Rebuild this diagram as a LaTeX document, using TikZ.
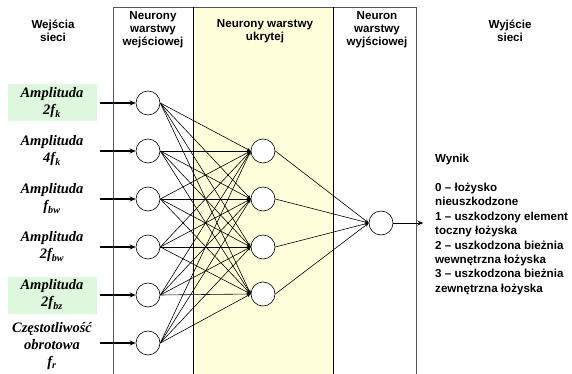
\documentclass[tikz,border=0pt]{standalone}
\usepackage{fontspec}
\setmainfont{Liberation Serif}
\setsansfont{Liberation Sans}
\usepackage{tikz}
\usetikzlibrary{positioning, arrows.meta}
\definecolor{hidyellow}{HTML}{FFFFDC}
\definecolor{ingreen}{HTML}{DDF8DD}
\definecolor{rulegray}{HTML}{555555}

\begin{document}
\begin{tikzpicture}[
  x=1pt, y=-1pt,
  >=Stealth,
  neuron/.style={
    circle, draw=black, fill=white, line width=0.6pt,
    minimum size=24pt, inner sep=0pt
  },
  inlabel/.style={
    minimum width=89pt, minimum height=37pt, align=center,
    inner sep=0pt, font=\fontsize{14.5}{17}\selectfont\bfseries\itshape
  },
  marked/.style={inlabel, fill=ingreen},
  header/.style={
    align=center, inner sep=0pt,
    font=\sffamily\bfseries\fontsize{11.6}{13}\selectfont
  },
  result/.style={
    align=left, inner sep=0pt,
    font=\sffamily\bfseries\fontsize{11.6}{14.4}\selectfont
  },
  inarrow/.style={->, line width=1.3pt, >={Stealth[length=6pt, width=5pt]}},
  link/.style={->, line width=0.6pt, >={Stealth[length=4pt, width=3pt]}},
]
\useasboundingbox (0,0) rectangle (572,374);

% Columns
\fill[hidyellow] (193,7) rectangle (333,374);
\draw[rulegray, line width=0.8pt] (113,374) -- (113,7) -- (416,7) -- (416,374);
\draw[line width=0.8pt] (193,7) -- (193,374);
\draw[line width=0.8pt] (333,7) -- (333,374);

% Headers
\node[header] (hin) at (53,31) {Wejścia\\sieci};
\node[header] (hinl) at (153,30) {Neurony\\warstwy\\wejściowej};
\node[header] (hhid) at (265,31) {Neurony warstwy\\ukrytej};
\node[header] (hout) at (377,30) {Neuron\\warstwy\\wyjściowej};
\node[header] (hres) at (510,31) {Wyjście\\sieci};

% Input layer
\node[neuron] (i1) at (148,103) {};
\node[neuron] (i2) at (148,151) {};
\node[neuron] (i3) at (148,199) {};
\node[neuron] (i4) at (148,247) {};
\node[neuron] (i5) at (148,295) {};
\node[neuron] (i6) at (148,343) {};

% Hidden layer
\node[neuron] (h1) at (263,151) {};
\node[neuron] (h2) at (263,199) {};
\node[neuron] (h3) at (263,247) {};
\node[neuron] (h4) at (263,294) {};

% Output neuron
\node[neuron] (o) at (381,223) {};
\coordinate[right=30pt of o.east] (oend);

% Input labels
\node[marked, left=39pt of i1] (l1) {Amplituda\\2f\textsubscript{k}};
\node[inlabel, left=39pt of i2] (l2) {Amplituda\\4f\textsubscript{k}};
\node[inlabel, left=39pt of i3] (l3) {Amplituda\\f\textsubscript{bw}};
\node[inlabel, left=39pt of i4] (l4) {Amplituda\\2f\textsubscript{bw}};
\node[marked, left=39pt of i5] (l5) {Amplituda\\2f\textsubscript{bz}};
\node[inlabel, left=39pt of i6, yshift=-3pt] (l6) {Częstotliwość\\obrotowa\\f\textsubscript{r}};

% Result description
\node[result, anchor=north west] (res) at (435,154)
  {Wynik\\[14.4pt]0 -- łożysko\\nieuszkodzone\\1 -- uszkodzony element\\toczny łożyska\\2 -- uszkodzona bieżnia\\wewnętrzna łożyska\\3 -- uszkodzona bieżnia\\zewnętrzna łożyska};

% Connections
\foreach \n in {1,...,6}
  \draw[inarrow] (l\n.east |- i\n) ++(3,0) -- (i\n.west);
\foreach \a in {1,...,6}
  \foreach \b in {1,...,4}
    \draw[link] (i\a.east) -- (h\b.west);
\foreach \b in {1,...,4}
  \draw[link] (h\b.east) -- (o.west);
\draw[inarrow, line width=1pt] (o.east) -- (oend);

\end{tikzpicture}
\end{document}
